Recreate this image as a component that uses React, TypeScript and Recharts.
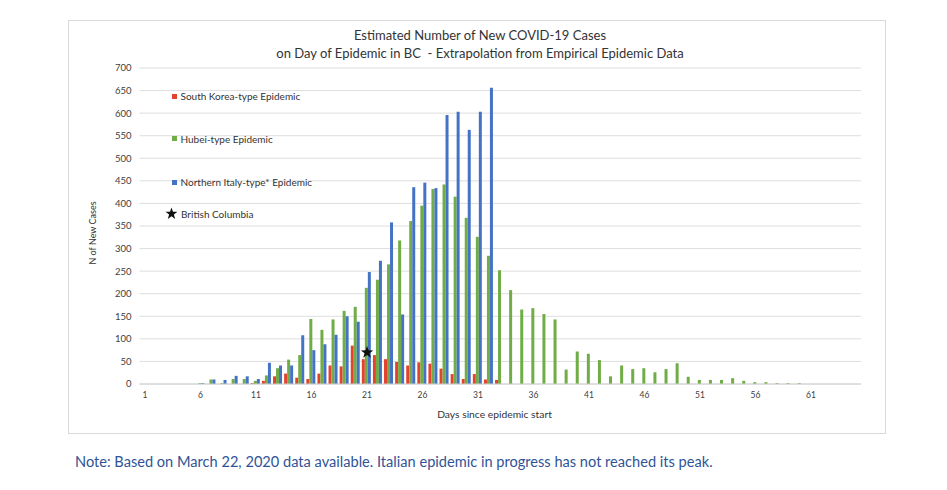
import React from 'react';
import { ComposedChart, Bar, Scatter, XAxis, YAxis, CartesianGrid } from 'recharts';

// Days since epidemic start (categories 1..65)
const days: number[] = Array.from({ length: 65 }, (_, i) => i + 1);

const southKorea: number[] = [
  0, 0, 0, 0, 0, 0, 0, 0, 0, 0,
  2, 7, 17, 23, 14, 11, 23, 41, 39, 85,
  55, 64, 55, 49, 41, 48, 45, 34, 22, 11,
  22, 10, 9, 0, 0, 0, 0, 0, 0, 0,
  0, 0, 0, 0, 0, 0, 0, 0, 0, 0,
  0, 0, 0, 0, 0, 0, 0, 0, 0, 0,
  0, 0, 0, 0, 0,
];

const hubei: number[] = [
  0, 0, 0, 0, 0, 2, 10, 2, 11, 11,
  7, 19, 35, 54, 64, 144, 120, 143, 162, 171,
  213, 231, 265, 318, 361, 395, 432, 442, 415, 368,
  326, 284, 252, 208, 165, 168, 155, 143, 32, 72,
  67, 53, 17, 41, 33, 35, 26, 33, 46, 16,
  9, 9, 9, 13, 7, 4, 4, 2, 2, 2,
  0, 0, 0, 0, 0,
];

const northernItaly: number[] = [
  0, 0, 0, 0, 0, 2, 10, 9, 18, 17,
  11, 47, 41, 41, 108, 75, 88, 109, 150, 138,
  248, 273, 358, 154, 436, 446, 434, 596, 603, 563,
  603, 656, 0, 0, 0, 0, 0, 0, 0, 0,
  0, 0, 0, 0, 0, 0, 0, 0, 0, 0,
  0, 0, 0, 0, 0, 0, 0, 0, 0, 0,
  0, 0, 0, 0, 0,
];

// British Columbia observed point
const bcDay = 21;
const bcValue = 70;

const yTicks: number[] = [0, 50, 100, 150, 200, 250, 300, 350, 400, 450, 500, 550, 600, 650, 700];

const titleLines: string[] = [
  'Estimated Number of New COVID-19 Cases',
  'on Day of Epidemic in BC  - Extrapolation from Empirical Epidemic Data',
];

const RED = '#E5412F';
const GREEN = '#70AD47';
const BLUE = '#4472C4';
const FONT = 'Lato, "Noto Sans", sans-serif';

function starPoints(cx: number, cy: number, R: number, r: number): string {
  const pts: string[] = [];
  for (let i = 0; i < 10; i++) {
    const ang = -Math.PI / 2 + (i * Math.PI) / 5;
    const rad = i % 2 === 0 ? R : r;
    pts.push(`${cx + rad * Math.cos(ang)},${cy + rad * Math.sin(ang)}`);
  }
  return pts.join(' ');
}

const StarShape = (props: any) => {
  const v = props?.payload?.bc;
  if (v == null || props.cx == null || props.cy == null) return <g />;
  return <polygon points={starPoints(props.cx, props.cy, 6.5, 2.6)} fill="#111" />;
};

export default function App() {
  const data = days.map((d, i) => ({
    day: d,
    sk: southKorea[i],
    hubei: hubei[i],
    italy: northernItaly[i],
    bc: d === bcDay ? bcValue : null,
  }));

  const legendItem = (top: number, color: string | null, label: string) => (
    <div
      style={{
        position: 'absolute',
        left: color ? 103 : 96,
        top: top - 7,
        height: 14,
        display: 'flex',
        alignItems: 'center',
        fontSize: 10,
        color: '#333',
        whiteSpace: 'nowrap',
      }}
    >
      {color ? (
        <span style={{ display: 'inline-block', width: 5, height: 5, background: color, marginRight: 3.5 }} />
      ) : (
        <svg width={13} height={13} style={{ marginRight: 3 }}>
          <polygon points={starPoints(6.5, 6.8, 6.3, 2.5)} fill="#111" />
        </svg>
      )}
      <span>{label}</span>
    </div>
  );

  return (
    <div style={{ position: 'relative', width: 931, height: 474, fontFamily: FONT }}>
      <div
        style={{
          position: 'absolute',
          left: 60,
          top: 12,
          width: 818,
          height: 414,
          border: '1px solid #d9d9d9',
          boxSizing: 'border-box',
          background: '#fff',
        }}
      >
        <ComposedChart
          width={816}
          height={412}
          data={data}
          margin={{ top: 47, right: 24, bottom: 13, left: 15 }}
          barCategoryGap="3%"
          barGap={0}
        >
          <CartesianGrid vertical={false} stroke="#dedede" />
          <XAxis
            dataKey="day"
            interval={4}
            tickLine={false}
            axisLine={{ stroke: '#d0d0d0' }}
            tick={{ fontSize: 8.5, fill: '#404040', fontFamily: FONT }}
            height={36}
          />
          <YAxis
            domain={[0, 700]}
            ticks={yTicks}
            interval={0}
            width={55.5}
            axisLine={false}
            tickLine={false}
            tick={{ fontSize: 9.5, fill: '#404040', fontFamily: FONT }}
          />
          <Bar dataKey="sk" fill={RED} isAnimationActive={false} />
          <Bar dataKey="hubei" fill={GREEN} isAnimationActive={false} />
          <Bar dataKey="italy" fill={BLUE} isAnimationActive={false} />
          <Scatter dataKey="bc" shape={StarShape} isAnimationActive={false} />
        </ComposedChart>

        <div
          style={{
            position: 'absolute',
            left: 0,
            top: 6,
            width: 822,
            textAlign: 'center',
            fontSize: 13,
            lineHeight: '17.6px',
            color: '#333',
            whiteSpace: 'pre',
          }}
        >
          {titleLines.map((t) => (
            <div key={t}>{t}</div>
          ))}
        </div>

        <div
          style={{
            position: 'absolute',
            left: 23,
            top: 212,
            transform: 'translate(-50%, -50%) rotate(-90deg)',
            fontSize: 9,
            color: '#333',
            whiteSpace: 'nowrap',
          }}
        >
          N of New Cases
        </div>

        <div
          style={{
            position: 'absolute',
            left: 425.5,
            top: 393,
            transform: 'translate(-50%, -50%)',
            fontSize: 10.3,
            color: '#333',
            whiteSpace: 'nowrap',
          }}
        >
          Days since epidemic start
        </div>

        {legendItem(75, RED, 'South Korea-type Epidemic')}
        {legendItem(117.7, GREEN, 'Hubei-type Epidemic')}
        {legendItem(161, BLUE, 'Northern Italy-type* Epidemic')}
        {legendItem(192.7, null, 'British Columbia')}
      </div>

      <div
        style={{
          position: 'absolute',
          left: 67,
          top: 445,
          fontSize: 14.6,
          lineHeight: '17px',
          color: '#2F5496',
          whiteSpace: 'nowrap',
        }}
      >
        Note: Based on March 22, 2020 data available. Italian epidemic in progress has not reached its peak.
      </div>
    </div>
  );
}
